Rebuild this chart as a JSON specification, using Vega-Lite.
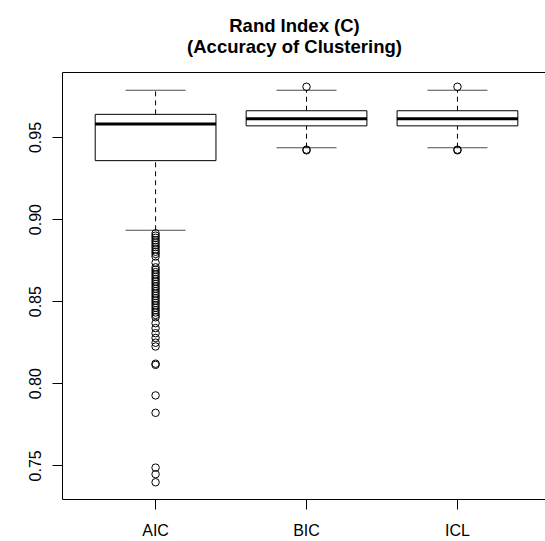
{
  "$schema": "https://vega.github.io/schema/vega-lite/v6.json",
  "autosize": {"type": "none"},
  "padding": {"left": 62, "top": 72, "right": 0, "bottom": 42},
  "width": 483,
  "height": 427,
  "title": {
    "text": ["Rand Index (C)", "(Accuracy of Clustering)"],
    "font": "Liberation Sans",
    "fontSize": 18.5,
    "fontWeight": "bold",
    "color": "black",
    "lineHeight": 21,
    "offset": 16,
    "dx": -9,
    "anchor": "middle"
  },
  "datasets": {
    "stats": [
      {"method": "AIC", "lower": 0.8932, "q1": 0.9356, "median": 0.9580, "q3": 0.9638, "upper": 0.9785},
      {"method": "BIC", "lower": 0.9435, "q1": 0.9568, "median": 0.9611, "q3": 0.9660, "upper": 0.9785},
      {"method": "ICL", "lower": 0.9435, "q1": 0.9568, "median": 0.9611, "q3": 0.9660, "upper": 0.9785}
    ],
    "outliers": [
      {"method": "AIC", "value": 0.8913}, {"method": "AIC", "value": 0.8899}, {"method": "AIC", "value": 0.8886},
      {"method": "AIC", "value": 0.8871}, {"method": "AIC", "value": 0.8858}, {"method": "AIC", "value": 0.8843},
      {"method": "AIC", "value": 0.8830}, {"method": "AIC", "value": 0.8815}, {"method": "AIC", "value": 0.8801},
      {"method": "AIC", "value": 0.8788}, {"method": "AIC", "value": 0.8772}, {"method": "AIC", "value": 0.8734},
      {"method": "AIC", "value": 0.8706}, {"method": "AIC", "value": 0.8692}, {"method": "AIC", "value": 0.8677},
      {"method": "AIC", "value": 0.8663}, {"method": "AIC", "value": 0.8648}, {"method": "AIC", "value": 0.8634},
      {"method": "AIC", "value": 0.8619}, {"method": "AIC", "value": 0.8605}, {"method": "AIC", "value": 0.8590},
      {"method": "AIC", "value": 0.8576}, {"method": "AIC", "value": 0.8561}, {"method": "AIC", "value": 0.8547},
      {"method": "AIC", "value": 0.8532}, {"method": "AIC", "value": 0.8518}, {"method": "AIC", "value": 0.8503},
      {"method": "AIC", "value": 0.8489}, {"method": "AIC", "value": 0.8474}, {"method": "AIC", "value": 0.8460},
      {"method": "AIC", "value": 0.8445}, {"method": "AIC", "value": 0.8431}, {"method": "AIC", "value": 0.8416},
      {"method": "AIC", "value": 0.8402}, {"method": "AIC", "value": 0.8366}, {"method": "AIC", "value": 0.8336},
      {"method": "AIC", "value": 0.8305}, {"method": "AIC", "value": 0.8276}, {"method": "AIC", "value": 0.8247},
      {"method": "AIC", "value": 0.8224}, {"method": "AIC", "value": 0.8119}, {"method": "AIC", "value": 0.8112},
      {"method": "AIC", "value": 0.7926}, {"method": "AIC", "value": 0.7820}, {"method": "AIC", "value": 0.7486},
      {"method": "AIC", "value": 0.7446}, {"method": "AIC", "value": 0.7397},
      {"method": "BIC", "value": 0.9806}, {"method": "BIC", "value": 0.9423}, {"method": "BIC", "value": 0.9419},
      {"method": "ICL", "value": 0.9806}, {"method": "ICL", "value": 0.9423}, {"method": "ICL", "value": 0.9419}
    ]
  },
  "config": {
    "view": {"stroke": null},
    "font": "Liberation Sans",
    "axis": {
      "domainColor": "black",
      "tickColor": "black",
      "labelColor": "black",
      "grid": false,
      "title": null,
      "labelFont": "Liberation Sans",
      "labelFontSize": 16
    }
  },
  "resolve": {"axis": {"x": "independent"}},
  "layer": [
    {
      "data": {"name": "stats"},
      "mark": {"type": "rule", "color": "black", "strokeWidth": 1, "strokeDash": [5, 4]},
      "encoding": {
        "x": {
          "field": "method", "type": "nominal",
          "scale": {"type": "band", "domain": ["AIC", "BIC", "ICL"], "paddingInner": 0, "paddingOuter": 0.1, "align": 0.6},
          "axis": {"orient": "bottom", "labelAngle": 0, "tickSize": 10, "labelPadding": 13, "domainWidth": 1}
        },
        "y": {
          "field": "lower", "type": "quantitative",
          "scale": {"domain": [0.7295, 0.9896], "nice": false, "zero": false},
          "axis": {"orient": "left", "values": [0.75, 0.8, 0.85, 0.9, 0.95], "format": ".2f", "labelAngle": 270, "labelAlign": "center", "labelBaseline": "alphabetic", "tickSize": 10, "labelPadding": 12}
        },
        "y2": {"field": "q1"}
      }
    },
    {
      "data": {"name": "stats"},
      "mark": {"type": "rule", "color": "black", "strokeWidth": 1, "strokeDash": [5, 4]},
      "encoding": {
        "x": {"field": "method", "type": "nominal", "axis": null},
        "y": {"field": "q3", "type": "quantitative"},
        "y2": {"field": "upper"}
      }
    },
    {
      "data": {"name": "stats"},
      "mark": {"type": "tick", "color": "black", "size": 60, "thickness": 1},
      "encoding": {
        "x": {"field": "method", "type": "nominal", "axis": null},
        "y": {"field": "lower", "type": "quantitative"}
      }
    },
    {
      "data": {"name": "stats"},
      "mark": {"type": "tick", "color": "black", "size": 60, "thickness": 1},
      "encoding": {
        "x": {"field": "method", "type": "nominal", "axis": null},
        "y": {"field": "upper", "type": "quantitative"}
      }
    },
    {
      "data": {"name": "stats"},
      "mark": {"type": "bar", "fill": "white", "stroke": "black", "strokeWidth": 1, "width": {"band": 0.8}},
      "encoding": {
        "x": {"field": "method", "type": "nominal", "axis": null},
        "y": {"field": "q1", "type": "quantitative"},
        "y2": {"field": "q3"}
      }
    },
    {
      "data": {"name": "stats"},
      "mark": {"type": "tick", "color": "black", "size": 121, "thickness": 3, "opacity": 1},
      "encoding": {
        "x": {"field": "method", "type": "nominal", "axis": null},
        "y": {"field": "median", "type": "quantitative"}
      }
    },
    {
      "data": {"name": "outliers"},
      "mark": {"type": "point", "shape": "circle", "filled": false, "color": "black", "size": 56, "strokeWidth": 1, "opacity": 1},
      "encoding": {
        "x": {"field": "method", "type": "nominal", "axis": {"orient": "top", "labels": false, "ticks": false, "domain": true, "domainWidth": 1}},
        "y": {"field": "value", "type": "quantitative"}
      }
    }
  ]
}
